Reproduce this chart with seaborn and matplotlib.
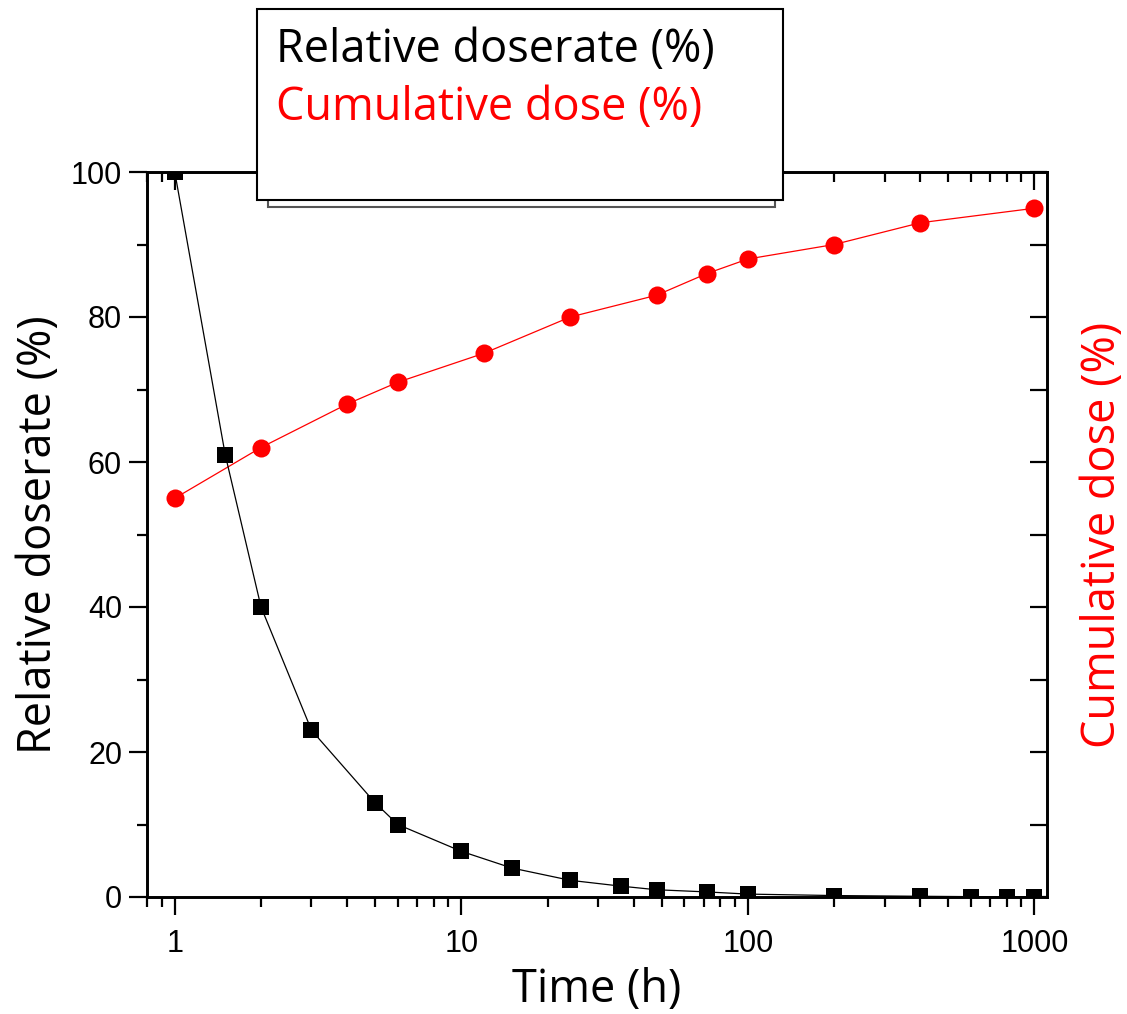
import numpy as np
import matplotlib
matplotlib.use('Agg')
import matplotlib.pyplot as plt
from matplotlib.patches import Rectangle
from matplotlib.ticker import LogLocator, MultipleLocator, NullFormatter
import seaborn as sns
import pandas as pd

sns.set_style('ticks', {'axes.edgecolor': 'black', 'text.color': 'black',
                        'axes.labelcolor': 'black', 'xtick.color': 'black',
                        'ytick.color': 'black'})

#### DATA ####
time_rate = [1, 1.5, 2, 3, 5, 6, 10, 15, 24, 36, 48, 72, 100, 200, 400, 600, 800, 1000]
doserate = [100, 61, 40, 23, 13, 10, 6.3, 4, 2.3, 1.5, 1.0, 0.7, 0.4, 0.2, 0.1, 0.05, 0.03, 0.02]

time_dose = [1, 2, 4, 6, 12, 24, 48, 72, 100, 200, 400, 1000]
cum_dose = [55, 62, 68, 71, 75, 80, 83, 86, 88, 90, 93, 95]

label_rate = 'Relative doserate (%)'
label_dose = 'Cumulative dose (%)'
xlabel = 'Time (h)'

df_rate = pd.DataFrame({'Time': time_rate, 'Rate': doserate})
df_dose = pd.DataFrame({'Time': time_dose, 'Dose': cum_dose})

W, H = 1127, 1014
fig = plt.figure(figsize=(W / 100, H / 100), dpi=100)
ax = fig.add_axes([147 / W, 1 - 897 / H, 900 / W, 725 / H])

label_font = 'Open Sans'
tick_font = 'Liberation Sans'
lfs = 32.5

#### CURVES ####
sns.lineplot(data=df_dose, x='Time', y='Dose', ax=ax, color='red', lw=0.9,
             marker='o', markersize=13, markeredgewidth=0, zorder=3)
sns.lineplot(data=df_rate, x='Time', y='Rate', ax=ax, color='black', lw=0.9,
             marker='s', markersize=12, markeredgewidth=0, zorder=4)

ax.set_xscale('log')
ax.set_xlim(0.8, 1106)
ax.set_ylim(0, 100)

ax.set_xticks([1, 10, 100, 1000])
ax.set_xticklabels(['1', '10', '100', '1000'])
ax.xaxis.set_minor_locator(LogLocator(base=10, subs=np.arange(2, 10), numticks=20))
ax.xaxis.set_minor_formatter(NullFormatter())
ax.yaxis.set_major_locator(MultipleLocator(20))
ax.yaxis.set_minor_locator(MultipleLocator(10))

ax.tick_params(which='major', direction='out', length=13, width=1.6, labelsize=22, pad=5)
ax.tick_params(which='minor', direction='out', length=7, width=1.6)
ax.tick_params(axis='x', which='major', pad=10)
for lab in ax.get_xticklabels() + ax.get_yticklabels():
    lab.set_fontfamily(tick_font)
for s in ax.spines.values():
    s.set_linewidth(1.9)

ax.set_xlabel(xlabel, fontsize=lfs, family=label_font, labelpad=6)
ax.set_ylabel(label_rate, fontsize=lfs, family=label_font, labelpad=6)

# right axis: inward ticks, red label
ax2 = ax.twinx()
ax2.set_ylim(0, 100)
ax2.yaxis.set_major_locator(MultipleLocator(10))
ax2.tick_params(axis='y', direction='in', length=12, width=1.6, labelright=False)
ax2.set_ylabel(label_dose, fontsize=lfs, family=label_font, color='red', labelpad=24)
for s in ax2.spines.values():
    s.set_linewidth(1.9)

# top axis: inward ticks
ax3 = ax.twiny()
ax3.set_xscale('log')
ax3.set_xlim(ax.get_xlim())
ax3.set_xticks([1, 10, 100, 1000])
ax3.xaxis.set_minor_locator(LogLocator(base=10, subs=np.arange(2, 10), numticks=20))
ax3.tick_params(axis='x', which='major', direction='in', length=13, width=1.6, labeltop=False)
ax3.tick_params(axis='x', which='minor', direction='in', length=7, width=1.6, labeltop=False)
ax3.xaxis.set_minor_formatter(NullFormatter())
ax3.set_xticklabels([])

#### LEGEND BOX ####
def fbox(x0, y0, x1, y1, **kw):
    return Rectangle((x0 / W, 1 - y1 / H), (x1 - x0) / W, (y1 - y0) / H,
                     transform=fig.transFigure, **kw)

fig.add_artist(fbox(268, 20, 775, 207, facecolor='white', edgecolor='#555555', lw=1.5, zorder=10))
fig.add_artist(fbox(257, 9, 783, 200, facecolor='white', edgecolor='black', lw=1.5, zorder=11))
fig.text(276 / W, 1 - 50 / H, label_rate, fontsize=lfs, family=label_font,
         color='black', va='center', ha='left', zorder=12)
fig.text(276 / W, 1 - 108 / H, label_dose, fontsize=lfs, family=label_font,
         color='red', va='center', ha='left', zorder=12)

fig.savefig('out.png', dpi=100)
